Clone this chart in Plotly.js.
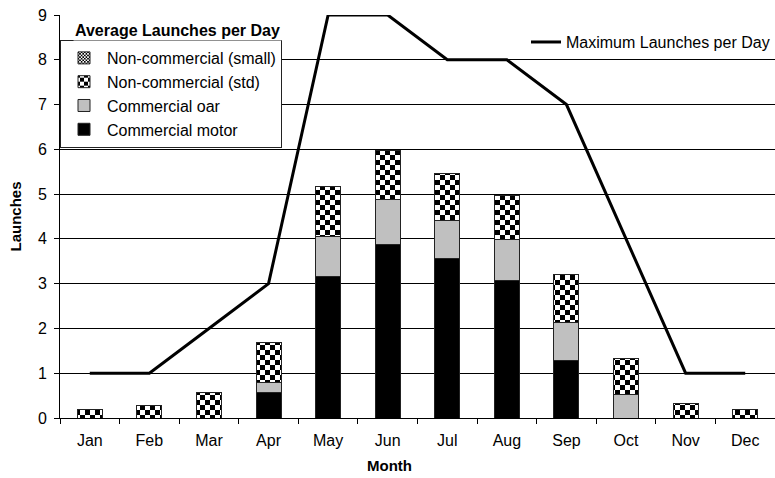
<!DOCTYPE html>
<html>
<head>
<meta charset="utf-8">
<script src="https://cdn.plot.ly/plotly-3.0.1.min.js"></script>
<style>html,body{margin:0;padding:0;background:#fff;}#chart{width:775px;height:478px;}</style>
</head>
<body>
<div id="chart"></div>
<script>
const months = ['Jan','Feb','Mar','Apr','May','Jun','Jul','Aug','Sep','Oct','Nov','Dec'];
const commercialMotor = [0, 0, 0, 0.57, 3.17, 3.88, 3.56, 3.06, 1.29, 0, 0, 0];
const commercialOar   = [0, 0, 0, 0.23, 0.88, 1.00, 0.86, 0.93, 0.85, 0.53, 0, 0];
const nonCommStd      = [0.20, 0.28, 0.56, 0.89, 1.13, 1.10, 1.04, 0.99, 1.07, 0.79, 0.33, 0.20];
const nonCommSmall    = [0, 0, 0, 0, 0, 0, 0, 0, 0, 0, 0, 0];
const maxLaunches     = [1, 1, 2, 3, 9, 9, 8, 8, 7, 4, 1, 1];
const yTicks = [0,1,2,3,4,5,6,7,8,9];

const FONT = 'Liberation Sans, Arial, sans-serif';
const edge = {color: '#222', width: 1};

const traces = [
  {type:'bar', name:'Commercial motor', x:months, y:commercialMotor,
   marker:{color:'#000000', line:edge}},
  {type:'bar', name:'Commercial oar', x:months, y:commercialOar,
   marker:{color:'#c0c0c0', line:edge}},
  {type:'bar', name:'Non-commercial (std)', x:months, y:nonCommStd,
   marker:{color:'#ffffff', line:edge,
     pattern:{shape:'.', size:10, solidity:0.5, fgcolor:'#000', bgcolor:'#fff'}}},
  {type:'bar', name:'Non-commercial (small)', x:months, y:nonCommSmall,
   marker:{color:'#ffffff', line:edge,
     pattern:{shape:'.', size:4, solidity:0.5, fgcolor:'#000', bgcolor:'#fff'}}},
  {type:'scatter', mode:'lines', name:'Maximum Launches per Day', x:months, y:maxLaunches,
   line:{color:'#000', width:3}, legend:'legend2', cliponaxis:true}
];

const layout = {
  width:775, height:478,
  margin:{l:60, r:0, t:15, b:60},
  paper_bgcolor:'#fff', plot_bgcolor:'#fff',
  font:{family:FONT, size:16, color:'#000'},
  barmode:'stack', bargap:0.58,
  showlegend:true,
  xaxis:{
    type:'category', tickson:'boundaries', ticks:'outside', ticklen:5, tickcolor:'#000',
    showline:true, linecolor:'#000', linewidth:1, showgrid:false,
    tickfont:{size:16}, range:[-0.5, 11.5], ticklabelstandoff:8
  },
  yaxis:{
    range:[0,9], tickvals:yTicks, ticks:'outside', ticklen:5, tickcolor:'#000',
    showline:true, linecolor:'#000', linewidth:1,
    showgrid:true, gridcolor:'#000', gridwidth:1, zeroline:false,
    tickfont:{size:16}, ticklabelstandoff:4,
    title:{text:'<b>Launches</b>', font:{size:15}, standoff:12}
  },
  legend:{
    x:0, xanchor:'left', y:0.938, yanchor:'top',
    bgcolor:'#fff', bordercolor:'#222', borderwidth:1,
    traceorder:'reversed', itemwidth:36, tracegroupgap:0,
    font:{size:16}
  },
  legend2:{
    x:1, xanchor:'right', y:0.975, yanchor:'top',
    bgcolor:'rgba(255,255,255,0)', borderwidth:0, itemwidth:30,
    font:{size:16}
  },
  annotations:[{
    xref:'paper', yref:'paper', x:0.165, y:0.962, xanchor:'center', yanchor:'middle',
    text:'<b>Average Launches per Day</b>', showarrow:false, font:{size:16}, bgcolor:'#fff'
  },{
    xref:'paper', yref:'paper', x:0.4615, y:-0.119, xanchor:'center', yanchor:'middle',
    text:'<b>Month</b>', showarrow:false, font:{size:15}
  }]
};

function checker(gd){
  const ns = 'http://www.w3.org/2000/svg';
  gd.querySelectorAll('pattern').forEach(p => {
    const w = parseFloat(p.getAttribute('width'));
    if(!w) return;
    const c = w/2;
    while(p.firstChild) p.removeChild(p.firstChild);
    const mk = (x,y,s,f) => {const r=document.createElementNS(ns,'rect');
      r.setAttribute('x',x);r.setAttribute('y',y);r.setAttribute('width',s);r.setAttribute('height',s);
      r.setAttribute('fill',f);p.appendChild(r);};
    mk(0,0,w,'#fff'); mk(0,0,c,'#000'); mk(c,c,c,'#000');
  });
}

Plotly.newPlot('chart', traces, layout, {staticPlot:true, displayModeBar:false})
  .then(gd => checker(gd));
</script>
</body>
</html>
